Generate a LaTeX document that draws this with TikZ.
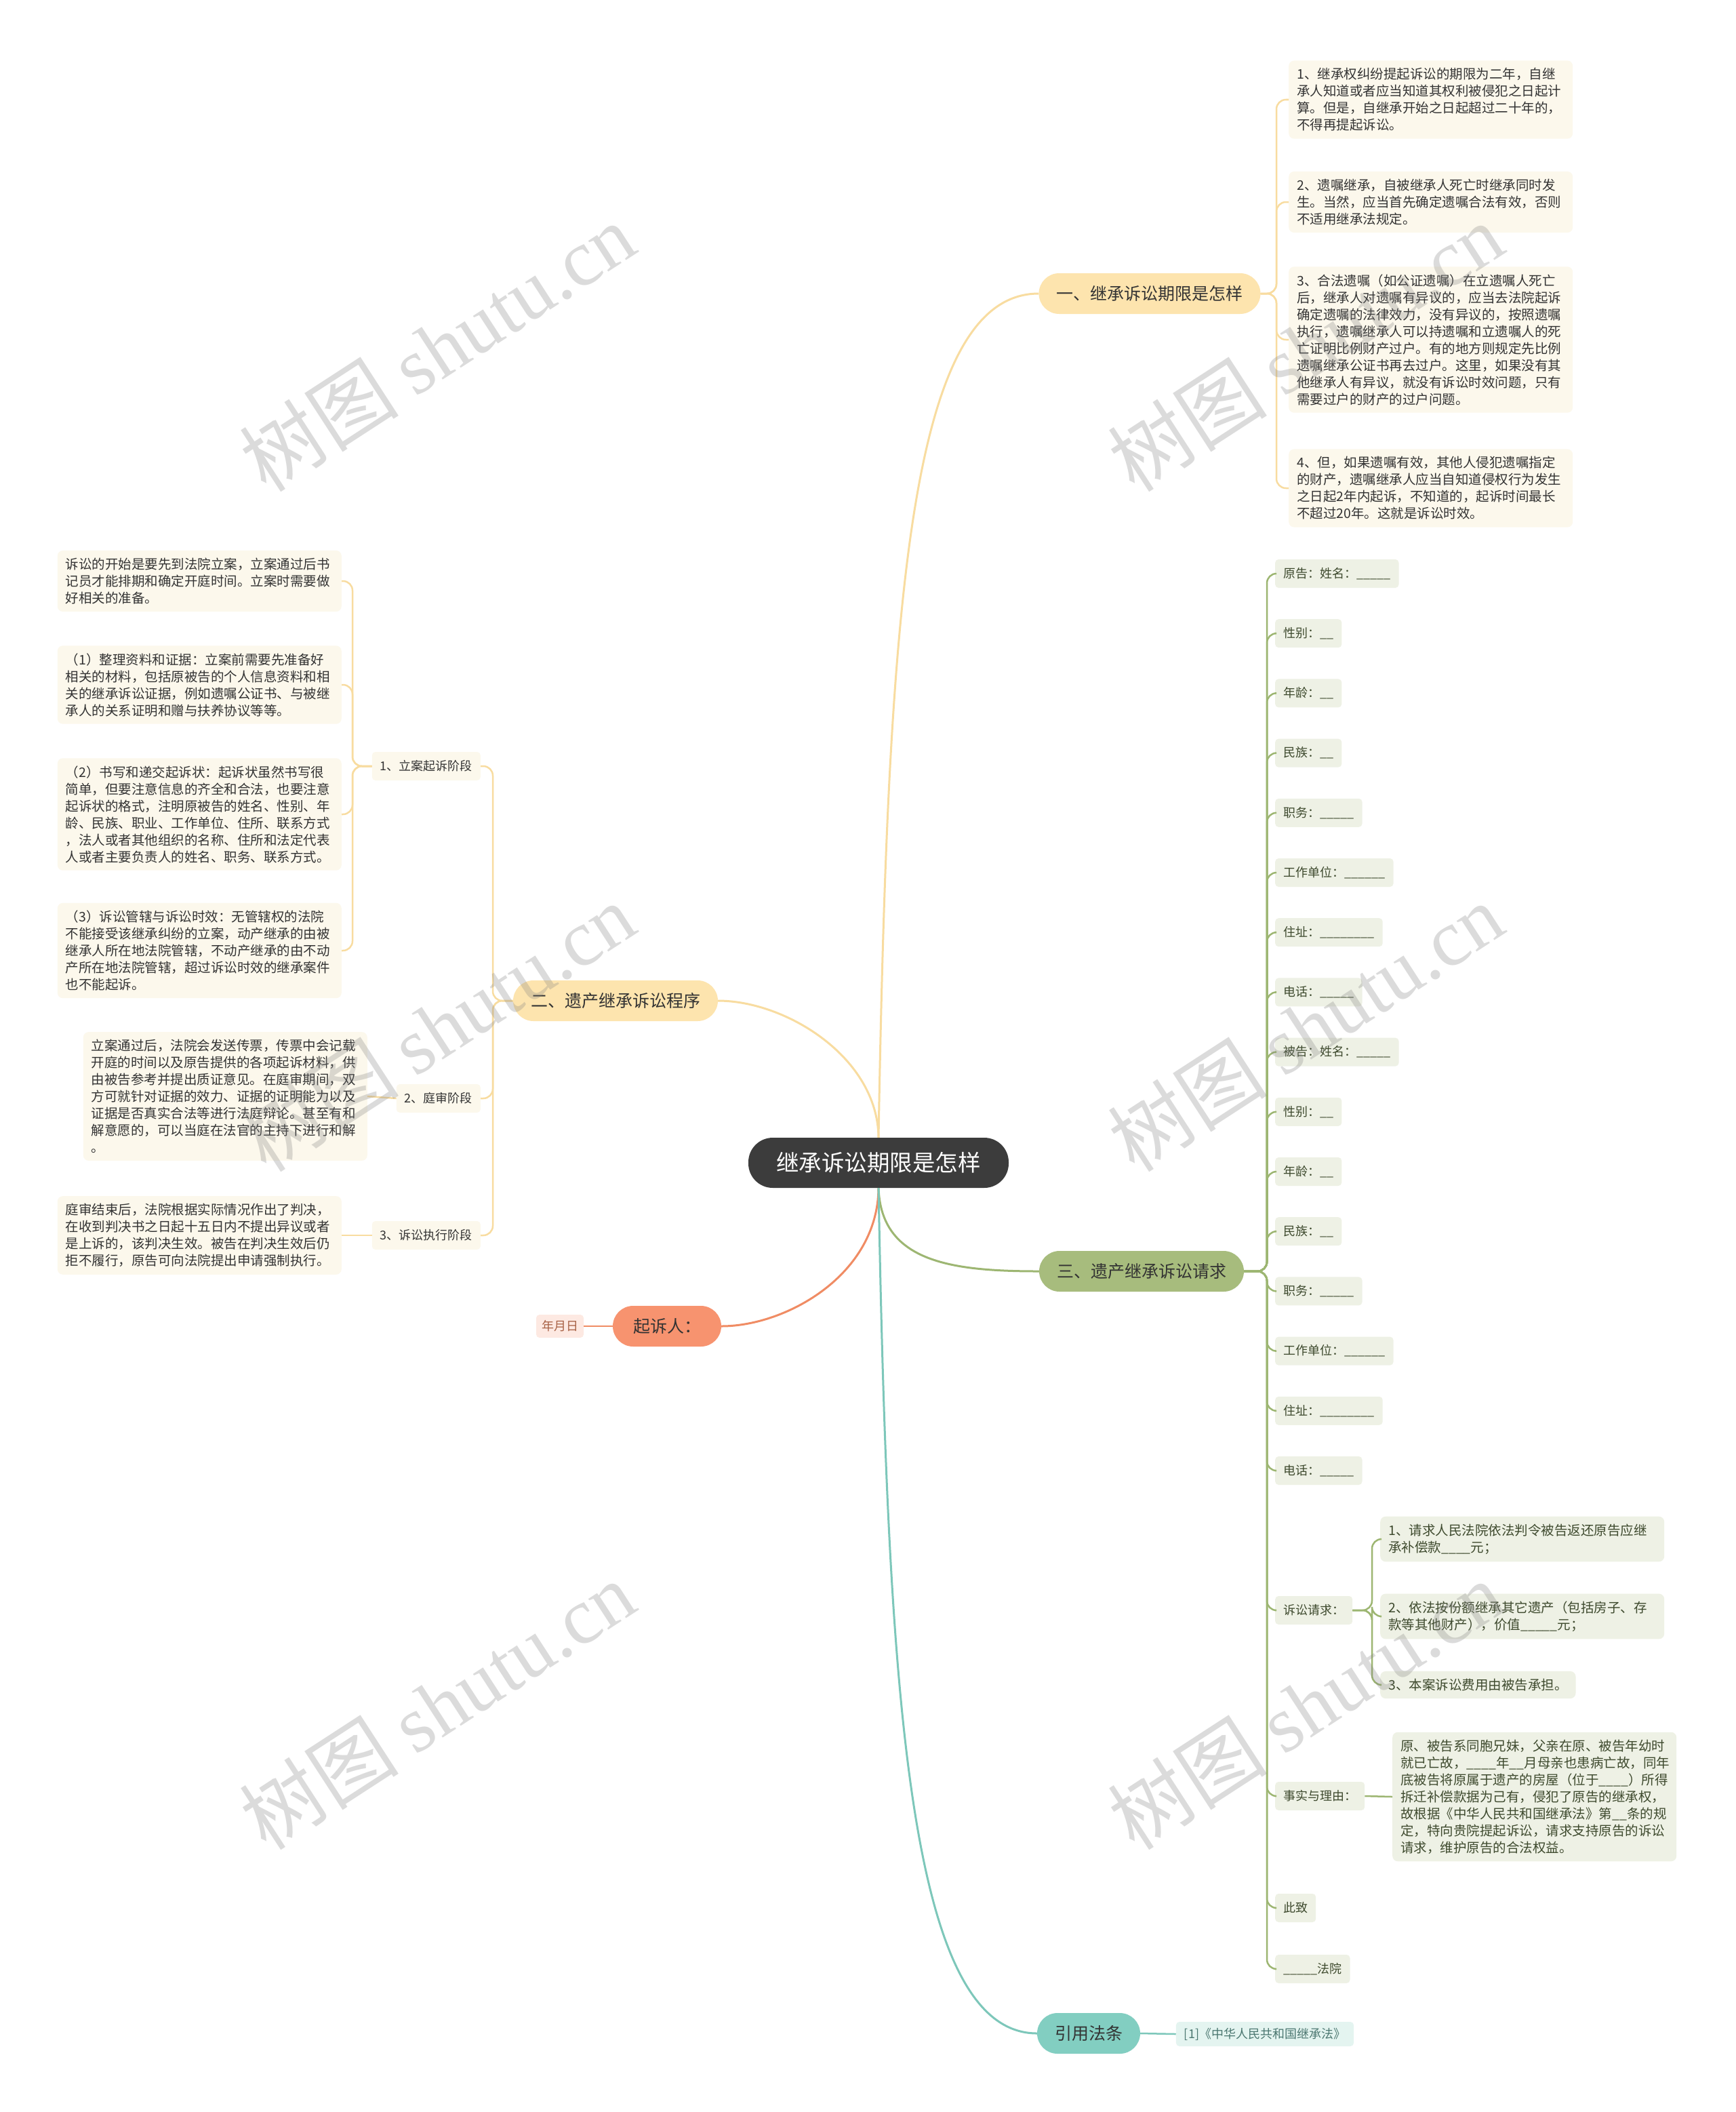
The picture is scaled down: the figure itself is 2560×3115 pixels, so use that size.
\documentclass[tikz,border=0pt]{standalone}
\usepackage{fontspec}
\setmainfont{Noto Sans CJK SC}
\newfontfamily\wmlatin{Liberation Serif}
\usetikzlibrary{positioning}
\definecolor{ink}{HTML}{333333}
\definecolor{hub}{HTML}{3C3C3C}
\definecolor{sand}{HTML}{FDE4AE}
\definecolor{sandline}{HTML}{F8DCA0}
\definecolor{cream}{HTML}{FCF8EC}
\definecolor{moss}{HTML}{A7BC7D}
\definecolor{mossline}{HTML}{9DB672}
\definecolor{mosspale}{HTML}{EEF1E5}
\definecolor{mossink}{HTML}{3E4A2E}
\definecolor{coral}{HTML}{F7936F}
\definecolor{coralline}{HTML}{F08C64}
\definecolor{coralpale}{HTML}{FDE9E2}
\definecolor{mint}{HTML}{82CEC1}
\definecolor{mintline}{HTML}{7DC7BA}
\definecolor{mintpale}{HTML}{E4F4F0}

\begin{document}
\begin{tikzpicture}[x=1pt, y=-1pt,
    hubbox/.style={fill=hub, text=white, rounded corners=36pt, minimum height=74pt, minimum width=384pt, font=\fontsize{33.5}{40}\selectfont},
    branch/.style={rounded corners=30pt, minimum height=60pt, inner xsep=26pt, text=ink, font=\fontsize{25}{30}\selectfont},
    leaf/.style={fill=cream, rounded corners=8pt, text=ink, align=left, text width=395pt, inner xsep=12pt, inner ysep=11pt, font=\fontsize{19.5}{25}\selectfont},
    tag/.style={rounded corners=5pt, minimum height=42pt, inner xsep=12pt, text=ink, font=\fontsize{18}{22}\selectfont},
    gtag/.style={tag, fill=mosspale, text=mossink},
    yline/.style={draw=sandline, line width=2.5pt, rounded corners=14pt},
    gline/.style={draw=mossline, line width=2.5pt, rounded corners=14pt},
    wmark/.style={rotate=33, text=gray, opacity=0.28, font=\fontsize{118}{118}\selectfont}]
  \useasboundingbox[fill=white] (0,0) rectangle (2560,3115);

  % centre and main branches
  \node[hubbox] (hub) at (1296,1715) {继承诉讼期限是怎样};
  \node[branch, fill=sand] (b1) at (1696,433) {一、继承诉讼期限是怎样};
  \node[branch, fill=sand] (b2) at (908,1476) {二、遗产继承诉讼程序};
  \node[branch, fill=coral, inner xsep=30pt] (pl) at (984,1956) {起诉人：};
  \node[branch, fill=moss] (b3) at (1684,1875) {三、遗产继承诉讼请求};
  \node[branch, fill=mint] (b4) at (1606,2999) {引用法条};

  \draw[sandline, line width=3pt] (hub.north) .. controls (1310,900) and (1340,433) .. (b1.west);
  \draw[sandline, line width=3pt] (hub.north) .. controls (1295,1560) and (1160,1476) .. (b2.east);
  \draw[coralline, line width=3pt] (hub.south) .. controls (1295,1880) and (1160,1956) .. (pl.east);
  \draw[mossline, line width=3pt] (hub.south) .. controls (1300,1860) and (1400,1875) .. (b3.west);
  \draw[mintline, line width=3pt] (hub.south) .. controls (1310,2500) and (1340,2999) .. (b4.west);

  % branch 1: time limits
  \node[leaf, anchor=west] (y1) at (1901,147) {1、继承权纠纷提起诉讼的期限为二年，自继\\承人知道或者应当知道其权利被侵犯之日起计\\算。但是，自继承开始之日起超过二十年的，\\不得再提起诉讼。};
  \node[leaf, anchor=west] (y2) at (1901,298) {2、遗嘱继承，自被继承人死亡时继承同时发\\生。当然，应当首先确定遗嘱合法有效，否则\\不适用继承法规定。};
  \node[leaf, anchor=west] (y3) at (1901,501) {3、合法遗嘱（如公证遗嘱）在立遗嘱人死亡\\后，继承人对遗嘱有异议的，应当去法院起诉\\确定遗嘱的法律效力，没有异议的，按照遗嘱\\执行，遗嘱继承人可以持遗嘱和立遗嘱人的死\\亡证明比例财产过户。有的地方则规定先比例\\遗嘱继承公证书再去过户。这里，如果没有其\\他继承人有异议，就没有诉讼时效问题，只有\\需要过户的财产的过户问题。};
  \node[leaf, anchor=west] (y4) at (1901,720) {4、但，如果遗嘱有效，其他人侵犯遗嘱指定\\的财产，遗嘱继承人应当自知道侵权行为发生\\之日起2年内起诉，不知道的，起诉时间最长\\不超过20年。这就是诉讼时效。};
  \coordinate (b1s) at (1883,433);
  \foreach \l in {y1,y2,y3,y4} \draw[yline] (b1.east) -- (b1s) |- (\l.west);

  % branch 2: procedure
  \node[tag, fill=cream, anchor=east] (s1) at (709,1130) {1、立案起诉阶段};
  \node[tag, fill=cream, anchor=east] (s2) at (709,1620) {2、庭审阶段};
  \node[tag, fill=cream, anchor=east] (s3) at (709,1822) {3、诉讼执行阶段};
  \coordinate (b2s) at (727,1476);
  \foreach \s in {s1,s2,s3} \draw[yline] (b2.west) -- (b2s) |- (\s.east);

  \node[leaf, anchor=east] (p1) at (504,857) {诉讼的开始是要先到法院立案，立案通过后书\\记员才能排期和确定开庭时间。立案时需要做\\好相关的准备。};
  \node[leaf, anchor=east] (p2) at (504,1010) {（1）整理资料和证据：立案前需要先准备好\\相关的材料，包括原被告的个人信息资料和相\\关的继承诉讼证据，例如遗嘱公证书、与被继\\承人的关系证明和赠与扶养协议等等。};
  \node[leaf, anchor=east] (p3) at (504,1201) {（2）书写和递交起诉状：起诉状虽然书写很\\简单，但要注意信息的齐全和合法，也要注意\\起诉状的格式，注明原被告的姓名、性别、年\\龄、民族、职业、工作单位、住所、联系方式\\，法人或者其他组织的名称、住所和法定代表\\人或者主要负责人的姓名、职务、联系方式。};
  \node[leaf, anchor=east] (p4) at (504,1402) {（3）诉讼管辖与诉讼时效：无管辖权的法院\\不能接受该继承纠纷的立案，动产继承的由被\\继承人所在地法院管辖，不动产继承的由不动\\产所在地法院管辖，超过诉讼时效的继承案件\\也不能起诉。};
  \coordinate (s1s) at (520,1130);
  \foreach \l in {p1,p2,p3,p4} \draw[yline] (s1.west) -- (s1s) |- (\l.east);

  \node[leaf, anchor=east] (q1) at (542,1617) {立案通过后，法院会发送传票，传票中会记载\\开庭的时间以及原告提供的各项起诉材料，供\\由被告参考并提出质证意见。在庭审期间，双\\方可就针对证据的效力、证据的证明能力以及\\证据是否真实合法等进行法庭辩论。甚至有和\\解意愿的，可以当庭在法官的主持下进行和解\\。};
  \draw[yline] (s2.west) -- (q1.east);
  \node[leaf, anchor=east] (e1) at (504,1822) {庭审结束后，法院根据实际情况作出了判决，\\在收到判决书之日起十五日内不提出异议或者\\是上诉的，该判决生效。被告在判决生效后仍\\拒不履行，原告可向法院提出申请强制执行。};
  \draw[yline] (s3.west) -- (e1.east);

  % plaintiff date
  \node[tag, fill=coralpale, text=coralline!70!black, minimum height=34pt, inner xsep=8pt] (dt) at (826,1956) {年月日};
  \draw[coralline, line width=2.5pt] (pl.west) -- (dt.east);

  % branch 3: claim form
  \coordinate (b3s) at (1869,1875);
  \foreach \t [count=\i] in {原告：姓名：\_\_\_\_\_, 性别：\_\_, 年龄：\_\_, 民族：\_\_, 职务：\_\_\_\_\_, 工作单位：\_\_\_\_\_\_, 住址：\_\_\_\_\_\_\_\_, 电话：\_\_\_\_\_, 被告：姓名：\_\_\_\_\_, 性别：\_\_, 年龄：\_\_, 民族：\_\_, 职务：\_\_\_\_\_, 工作单位：\_\_\_\_\_\_, 住址：\_\_\_\_\_\_\_\_, 电话：\_\_\_\_\_}
    \node[gtag, anchor=west] (g\i) at (1881,{846+88.2*(\i-1)}) {\t};
  \node[gtag, anchor=west] (sq) at (1881,2375) {诉讼请求：};
  \node[gtag, anchor=west] (fy) at (1881,2649) {事实与理由：};
  \node[gtag, anchor=west] (cz) at (1881,2814) {此致};
  \node[gtag, anchor=west] (fa) at (1881,2904) {\_\_\_\_\_法院};
  \foreach \i in {1,...,16} \draw[gline] (b3.east) -- (b3s) |- (g\i.west);
  \foreach \l in {sq,fy,cz,fa} \draw[gline] (b3.east) -- (b3s) |- (\l.west);

  \node[leaf, fill=mosspale, text=mossink, anchor=west] (r1) at (2036,2270) {1、请求人民法院依法判令被告返还原告应继\\承补偿款\_\_\_\_元；};
  \node[leaf, fill=mosspale, text=mossink, anchor=west] (r2) at (2036,2384) {2、依法按份额继承其它遗产（包括房子、存\\款等其他财产），价值\_\_\_\_\_元；};
  \node[leaf, fill=mosspale, text=mossink, text width=, anchor=west] (r3) at (2036,2485) {3、本案诉讼费用由被告承担。};
  \coordinate (sqs) at (2024,2375);
  \foreach \l in {r1,r2,r3} \draw[gline] (sq.east) -- (sqs) |- (\l.west);

  \node[leaf, fill=mosspale, text=mossink, anchor=west] (fact) at (2054,2650) {原、被告系同胞兄妹，父亲在原、被告年幼时\\就已亡故，\_\_\_\_年\_\_月母亲也患病亡故，同年\\底被告将原属于遗产的房屋（位于\_\_\_\_）所得\\拆迁补偿款据为己有，侵犯了原告的继承权，\\故根据《中华人民共和国继承法》第\_\_条的规\\定，特向贵院提起诉讼，请求支持原告的诉讼\\请求，维护原告的合法权益。};
  \draw[gline] (fy.east) -- (fact.west);

  % branch 4: law
  \node[tag, fill=mintpale, text=mintline!60!black, minimum height=36pt] (law) at (1866,3000) {[1]《中华人民共和国继承法》};
  \draw[mintline, line width=2.5pt] (b4.east) -- (law.west);

  % watermark
  \foreach \wx in {645,1926} \foreach \wy in {512,1515,2515}
    \node[wmark] at (\wx,\wy) {树图\hspace{25pt}{\wmlatin shutu.cn}};
\end{tikzpicture}
\end{document}
